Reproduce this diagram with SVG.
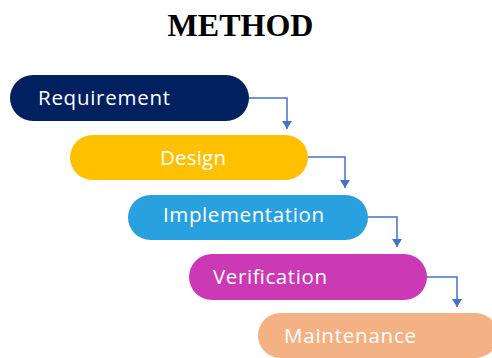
<svg xmlns="http://www.w3.org/2000/svg" width="492" height="358" viewBox="0 0 492 358">
  <defs>
    <marker id="arrow" markerWidth="10" markerHeight="10" refX="8" refY="5" orient="auto" markerUnits="userSpaceOnUse" viewBox="0 0 10 10">
      <path d="M0,0 L8,5 L0,10 Z" fill="#4472C4"/>
    </marker>
    <style>
      .title { font-family: "Liberation Serif", "Times New Roman", serif; font-weight: bold; font-size: 32px; fill: #000; }
      .step { stroke: none; }
      .label { font-family: "Open Sans", "Noto Sans", sans-serif; font-size: 20.5px; fill: #ffffff; }
      .link { fill: none; stroke: #4472C4; stroke-width: 1.5; }
    </style>
  </defs>
  <rect width="492" height="358" fill="#ffffff"/>

  <text class="title" x="240.5" y="36" text-anchor="middle">METHOD</text>

  <g id="connectors">
    <path class="link" d="M249,98 H287 V129" marker-end="url(#arrow)"/>
    <path class="link" d="M308,157 H345 V188" marker-end="url(#arrow)"/>
    <path class="link" d="M368,217 H397 V247" marker-end="url(#arrow)"/>
    <path class="link" d="M427,277 H457 V307" marker-end="url(#arrow)"/>
  </g>

  <g id="requirement">
    <rect class="step" x="10" y="75" width="239" height="46" rx="23" fill="#002060"/>
    <text class="label" x="38" y="105" textLength="132">Requirement</text>
  </g>
  <g id="design">
    <rect class="step" x="70" y="135" width="238" height="45" rx="22.5" fill="#FFC000"/>
    <text class="label" x="160" y="165" textLength="66">Design</text>
  </g>
  <g id="implementation">
    <rect class="step" x="128" y="195" width="240" height="45" rx="22.5" fill="#29A1DF"/>
    <text class="label" x="163" y="222" textLength="161">Implementation</text>
  </g>
  <g id="verification">
    <rect class="step" x="189" y="254" width="238" height="46" rx="23" fill="#CC39B4"/>
    <text class="label" x="213" y="284" textLength="114">Verification</text>
  </g>
  <g id="maintenance">
    <rect class="step" x="258" y="313" width="240" height="45" rx="22.5" fill="#F4B183"/>
    <text class="label" x="284" y="343" textLength="132">Maintenance</text>
  </g>
</svg>
